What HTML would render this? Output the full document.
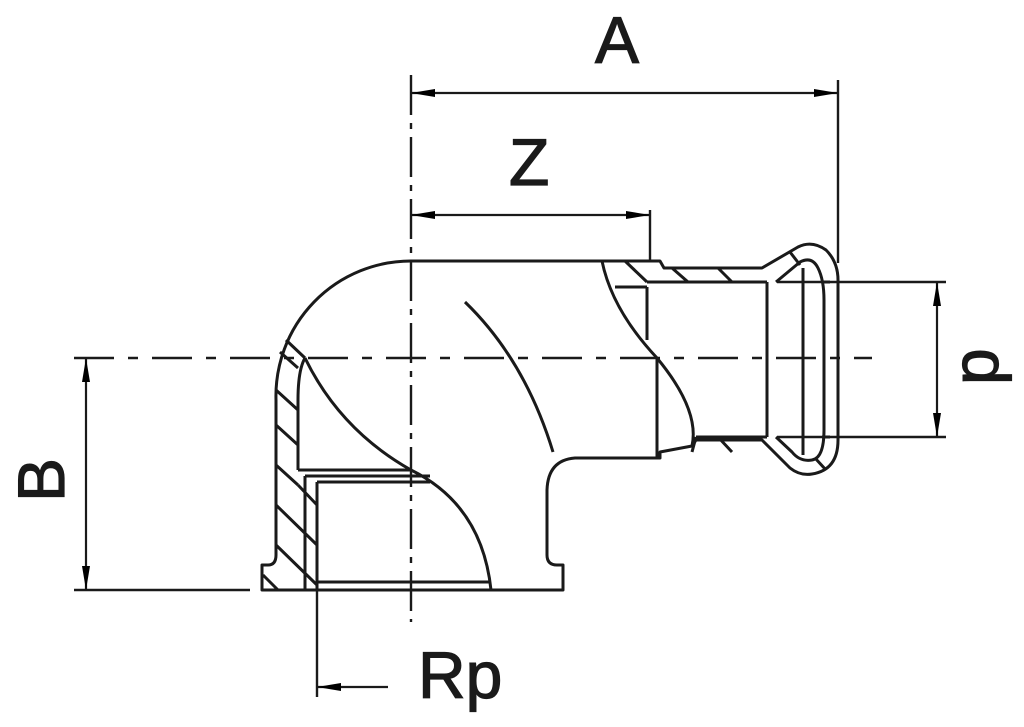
<!DOCTYPE html>
<html><head><style>html,body{margin:0;padding:0;background:#fff}svg{display:block}</style></head>
<body>
<svg width="1024" height="727" viewBox="0 0 1024 727" xmlns="http://www.w3.org/2000/svg">
<defs>
<marker id="a2" viewBox="0 0 24 10" refX="24" refY="5" markerWidth="24" markerHeight="10" markerUnits="userSpaceOnUse" orient="auto-start-reverse">
<path d="M0,1 L24,5 L0,9 z" fill="#000"/></marker>
</defs>
<g fill="none" stroke="#1a1a1a" stroke-width="3" stroke-linejoin="round">
<line x1="411" y1="75" x2="411" y2="622" stroke-dasharray="40,8,6,8" stroke-width="2.4"/>
<line x1="74" y1="358" x2="872" y2="358" stroke-dasharray="40,14,10,14" stroke-width="2.4"/>
<line x1="838" y1="80" x2="838" y2="263" stroke-width="2.4"/>
<line x1="411" y1="93" x2="838" y2="93" stroke-width="2.2" marker-start="url(#a2)" marker-end="url(#a2)"/>
<line x1="650" y1="210" x2="650" y2="262" stroke-width="2.4"/>
<line x1="411" y1="215" x2="650" y2="215" stroke-width="2.2" marker-start="url(#a2)" marker-end="url(#a2)"/>
<line x1="74" y1="590" x2="250" y2="590" stroke-width="2.4"/>
<line x1="86" y1="358" x2="86" y2="590" stroke-width="2.2" marker-start="url(#a2)" marker-end="url(#a2)"/>
<line x1="777" y1="282" x2="946" y2="282" stroke-width="2.4"/>
<line x1="777" y1="437" x2="946" y2="437" stroke-width="2.4"/>
<line x1="937" y1="282" x2="937" y2="437" stroke-width="2.2" marker-start="url(#a2)" marker-end="url(#a2)"/>
<line x1="317" y1="590" x2="317" y2="697" stroke-width="2.4"/>
<line x1="388" y1="687" x2="317" y2="687" stroke-width="2.2" marker-end="url(#a2)"/>
<path d="M411,261 L660,261 L664,268 L762,268 L798,247 Q812,240 826,250 Q838,262 838,280 L838,440 Q838,470 812,474 Q800,476 790,468 L762,440 L696,440 L692,446 L660,452 L660,458 L575,458 Q548,460 547,490 L547,555 Q547,565 557,565 L563,565 L563,590 L262,590 L262,565 L268,565 Q276,565 276,555 L276,400 A135,135 0 0 1 411,261 Z"/>
<path d="M776,282 L800,262 Q812,256 818,268 Q824,280 824,300 L824,430 Q824,458 812,460 Q800,462 792,452 L776,437"/>
<line x1="803" y1="268" x2="803" y2="455"/>
<line x1="822" y1="282" x2="830" y2="282"/><line x1="822" y1="437" x2="830" y2="437"/>
<line x1="767" y1="282" x2="767" y2="437"/>
<line x1="647" y1="282" x2="767" y2="282"/>
<line x1="615" y1="287" x2="647" y2="287"/>
<line x1="647" y1="287" x2="647" y2="340"/>
<line x1="657" y1="358" x2="657" y2="458"/>
<line x1="696" y1="437" x2="767" y2="437"/>
<line x1="696" y1="437" x2="692" y2="452"/>
<line x1="625" y1="261" x2="647" y2="282"/><line x1="672" y1="268" x2="688" y2="282"/><line x1="718" y1="268" x2="732" y2="282"/><line x1="790" y1="252" x2="800" y2="265"/><line x1="718" y1="437" x2="732" y2="452"/><line x1="815" y1="458" x2="826" y2="470"/>
<path d="M602,261 Q612,310 657,358 Q700,410 692,446"/>
<path d="M465,302 Q525,360 553,452"/>
<path d="M305,358 Q340,430 411,470 Q482,505 491,590"/>
<path d="M298,470 L298,400 Q298,370 305,358"/>
<line x1="298" y1="470" x2="411" y2="470"/>
<line x1="305" y1="476" x2="430" y2="476"/>
<line x1="305" y1="476" x2="305" y2="590"/>
<line x1="317" y1="482" x2="430" y2="482"/>
<line x1="317" y1="482" x2="317" y2="590"/>
<line x1="317" y1="582" x2="491" y2="582"/>
<line x1="286" y1="340" x2="305" y2="358"/><line x1="280" y1="352" x2="298" y2="368"/><line x1="276" y1="390" x2="298" y2="410"/><line x1="276" y1="425" x2="298" y2="445"/><line x1="276" y1="465" x2="298" y2="485"/><line x1="276" y1="505" x2="317" y2="545"/><line x1="276" y1="545" x2="317" y2="585"/><line x1="263" y1="575" x2="278" y2="590"/><line x1="298" y1="485" x2="317" y2="505"/>
</g>
<g font-family="'Liberation Sans',sans-serif" fill="#1a1a1a" stroke="#1a1a1a" stroke-width="1.2" font-size="66">
<text x="595" y="63">A</text>
<text x="509" y="185">Z</text>
<text x="418" y="698">Rp</text>
<text transform="translate(64,502) rotate(-90)">B</text>
<text transform="translate(998,385) rotate(-90)">p</text>
</g>
</svg>
</body></html>
